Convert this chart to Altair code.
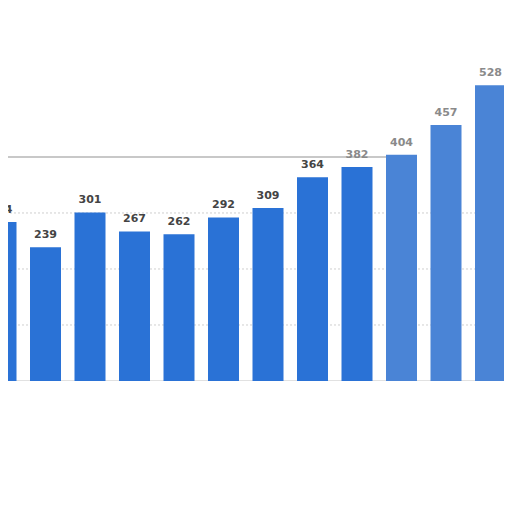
import altair as alt
import pandas as pd

idx = list(range(12))
values = [284, 239, 301, 267, 262, 292, 309, 364, 382, 404, 457, 528]
faded = [0, 0, 0, 0, 0, 0, 0, 0, 0, 1, 1, 1]
grid_vals = [100, 200, 300]

df = pd.DataFrame({"i": idx, "v": values, "f": faded, "lab": [str(v) for v in values]})
gdf = pd.DataFrame({"g": grid_vals})
tdf = pd.DataFrame({"g": [400]})

xs = alt.Scale(domain=[7 / 44.5, 503 / 44.5], nice=False, zero=False, padding=0)
ys = alt.Scale(domain=[0, 666], nice=False, padding=0)

grid = alt.Chart(gdf).mark_rule(color="#cfcfcf", strokeDash=[2, 2], strokeWidth=1).encode(
    y=alt.Y("g:Q", scale=ys, axis=None)
)
top = alt.Chart(tdf).mark_rule(color="#c8c8c8", strokeWidth=2).encode(
    y=alt.Y("g:Q", scale=ys, axis=None), x=alt.value(0), x2=alt.value(385)
)

bars = alt.Chart(df).mark_bar(size=31, clip=True).encode(
    x=alt.X("i:Q", scale=xs, axis=alt.Axis(labels=False, ticks=False, grid=False, title=None,
                                          domainColor="#888888", domainWidth=1.5)),
    y=alt.Y("v:Q", scale=ys, axis=None),
    color=alt.condition("datum.f == 1", alt.value("#4a84d6"), alt.value("#2a72d6")),
)

labels = alt.Chart(df).mark_text(
    baseline="bottom", dy=-7, fontSize=11, fontWeight="bold", font="DejaVu Sans", clip=True
).encode(
    x=alt.X("i:Q", scale=xs),
    y=alt.Y("v:Q", scale=ys),
    text="lab:N",
    color=alt.condition("datum.i >= 8", alt.value("#8a8a8a"), alt.value("#444444")),
)

chart = alt.layer(grid, top, bars, labels).properties(
    width=496, height=373, padding=0, autosize=alt.AutoSizeParams(type="none")
).configure_view(stroke=None)

chart.save("out.html", embed_options={"renderer": "svg", "actions": False})
